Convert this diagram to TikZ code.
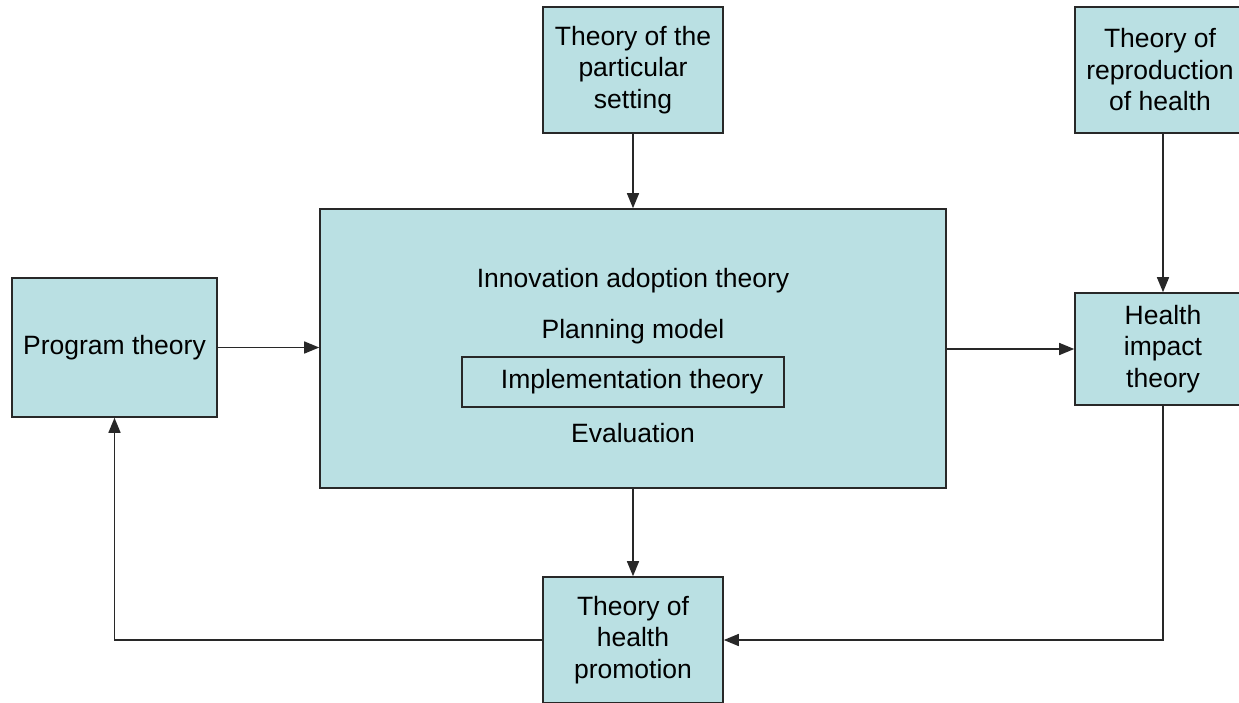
\documentclass[tikz,border=0pt]{standalone}
\usepackage{fontspec}
\setmainfont{Liberation Sans}
\usetikzlibrary{positioning, arrows.meta}
\definecolor{boxfill}{RGB}{186,224,227}
\definecolor{linegray}{RGB}{40,40,40}

\begin{document}
\begin{tikzpicture}[
  x=1pt, y=-1pt,
  every node/.style={font=\fontsize{26.5}{31.5}\selectfont},
  box/.style={draw=linegray, line width=1.6pt, fill=boxfill, inner sep=0pt, align=center},
  frame/.style={draw=linegray, line width=1.6pt, inner sep=0pt},
  link/.style={-{Triangle[length=15pt, width=12pt]}, draw=linegray, line width=1.5pt}
]
\clip (0,0) rectangle (1239,702);
\fill[white] (0,0) rectangle (1239,702);

% Top theory boxes
\node[box, minimum width=180pt, minimum height=126pt] (setting) at (633,70) {Theory of the\\particular\\setting};
\node[box, minimum width=170pt, minimum height=126pt] (reproduction) at (1160,70) {Theory of\\reproduction\\of health};

% Central box
\node[box, minimum width=626pt, minimum height=279pt] (central) at (633,348.5) {};
\node[anchor=base] (innovation) at (633,287) {Innovation adoption theory};
\node[anchor=base] (planning) at (633,338) {Planning model};
\node[frame, minimum width=322pt, minimum height=50pt] (implementation) at (623,382) {\hspace*{18pt}Implementation theory};
\node[anchor=base] (evaluation) at (633,442) {Evaluation};

% Side boxes
\node[box, minimum width=205pt, minimum height=139pt] (program) at (114.5,347.5) {Program theory};
\node[box, minimum width=176pt, minimum height=112pt] (impact) at (1163,349) {Health\\impact\\theory};

% Bottom box
\node[box, minimum width=180pt, minimum height=126pt] (promotion) at (633,640) {Theory of\\health\\promotion};

% Connectors
\draw[link] (setting) -- (central);
\draw[link] (impact.north |- reproduction.south) -- (impact.north);
\draw[link] (program.east) -- (central.west |- program.east);
\draw[link] (central.east |- impact.west) -- (impact.west);
\draw[link] (central) -- (promotion);
\draw[link] (impact.south) |- (promotion.east);
\draw[link] (promotion.west) -| (program.south);

\end{tikzpicture}
\end{document}
